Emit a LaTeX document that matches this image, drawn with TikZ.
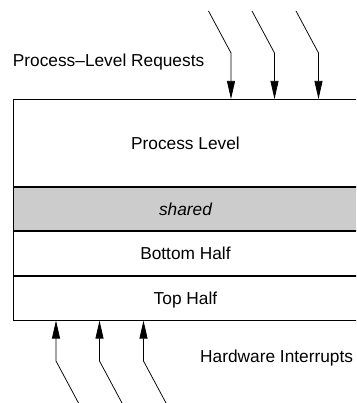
\documentclass[tikz,border=0pt]{standalone}
\usepackage{fontspec}
\setmainfont{Liberation Sans}
\usetikzlibrary{arrows.meta}
\definecolor{sharedgray}{gray}{0.8}
\begin{document}
\begin{tikzpicture}[x=1pt,y=-1pt,
  layer/.style={draw, line width=0.9pt, minimum width=345pt, inner sep=0pt,
    anchor=north west, text height=12.4pt, text depth=0pt,
    font=\fontsize{17.3}{20}\selectfont},
  req/.style={line width=0.75pt, -{Triangle[length=18pt,width=8pt]}},
  lbl/.style={font=\fontsize{17.3}{20}\selectfont, inner sep=0pt, anchor=base west}]
\useasboundingbox (0,0) rectangle (356,403);
\clip (0,0) rectangle (356,403);

% the layered structure
\node[layer, minimum height=87pt] (pl) at (12.5,99) {Process Level};
\node[layer, minimum height=43pt, fill=sharedgray] (sh) at (pl.south west) {\itshape shared};
\node[layer, minimum height=44pt] (bh) at (sh.south west) {Bottom Half};
\node[layer, minimum height=44pt] (th) at (bh.south west) {Top Half};

% labels
\node[lbl] (reqlbl) at (12.7,67) {Process–Level Requests};
\node[lbl] (hwlbl) at (200,362.5) {Hardware Interrupts};

% incoming process-level requests
\coordinate (r1) at (208.5,11);  \coordinate (r1b) at (231,53);
\coordinate (r2) at (252,11);    \coordinate (r2b) at (274.5,53);
\coordinate (r3) at (296,11);    \coordinate (r3b) at (318.5,53);
\draw[req] (r1) -- (r1b) -- (r1b |- pl.north);
\draw[req] (r2) -- (r2b) -- (r2b |- pl.north);
\draw[req] (r3) -- (r3b) -- (r3b |- pl.north);

% incoming hardware interrupts
\coordinate (h1) at (78.5,403);  \coordinate (h1b) at (56,361);
\coordinate (h2) at (122,403);   \coordinate (h2b) at (99.5,361);
\coordinate (h3) at (166,403);   \coordinate (h3b) at (143.5,361);
\draw[req] (h1) -- (h1b) -- (h1b |- th.south);
\draw[req] (h2) -- (h2b) -- (h2b |- th.south);
\draw[req] (h3) -- (h3b) -- (h3b |- th.south);
\end{tikzpicture}
\end{document}
